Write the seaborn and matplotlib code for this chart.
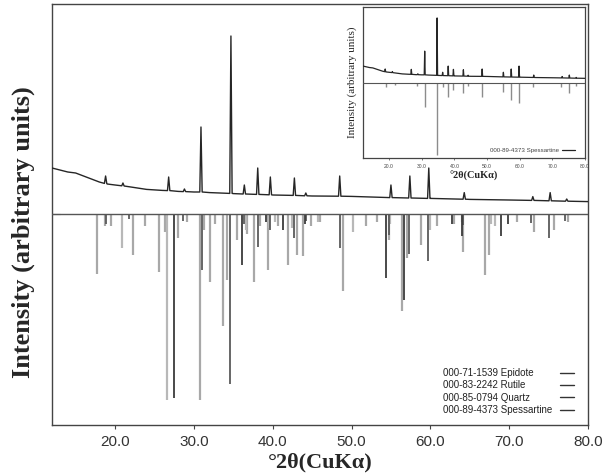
import numpy as np
import matplotlib
matplotlib.use("Agg")
import matplotlib.pyplot as plt
from matplotlib.lines import Line2D
import seaborn as sns

# ---------------- data ----------------
# measured pattern (2theta, intensity in arbitrary units)
meas_x = [12, 13, 14, 15, 16, 17, 18, 18.65, 18.8, 18.95, 19, 20, 20.85, 21.0, 21.15,
          22, 24, 26, 26.65, 26.8, 26.95, 28, 28.65, 28.8, 28.95, 30, 30.75, 30.9, 31.05,
          32, 34.55, 34.7, 34.85, 35, 36.25, 36.4, 36.55, 37.95, 38.1, 38.25, 39.55, 39.7,
          39.85, 40, 42.6, 42.75, 42.9, 44.05, 44.2, 44.35, 45, 48.35, 48.5, 48.65, 50,
          54.85, 55.0, 55.15, 57.25, 57.4, 57.55, 59.65, 59.8, 59.95, 60, 64.15, 64.3, 64.45,
          65, 70, 72.85, 73.0, 73.15, 75.05, 75.2, 75.35, 77.15, 77.3, 77.45, 80]
meas_y = [23, 22, 21, 20.5, 19, 17.5, 16, 15.3, 19, 15.2, 15, 14.5, 14.1, 15.5, 14,
          13.5, 12.3, 11.8, 11.7, 18.5, 11.7, 11.3, 11.2, 12.5, 11.2, 11, 11, 43.5, 11,
          10.7, 10.3, 89, 10.3, 10.2, 10, 14.5, 10, 9.8, 23, 9.8, 9.6, 18.5,
          9.6, 9.5, 9.3, 18, 9.3, 9.1, 10.5, 9.1, 9, 8.9, 19, 8.9, 8.8,
          8.2, 14.5, 8.2, 8, 19, 8, 7.8, 23, 7.8, 7.8, 7.4, 10.7, 7.4,
          7.3, 7, 6.8, 8.7, 6.8, 6.6, 10.7, 6.6, 6.4, 7.5, 6.4, 6.2]

# reference patterns (peak position, relative intensity)
epi_pos = [17.76, 18.7, 19.45, 22.25, 23.8, 25.6, 26.36, 28.0, 29.1, 30.8, 31.3, 32.1,
           32.7, 33.7, 34.2, 35.5, 36.7, 37.6, 38.4, 39.36, 40.7, 41.9, 43.1, 43.9, 44.8,
           46.0, 48.9, 51.8, 53.25, 54.7, 56.43, 57.1, 58.8, 60.9, 63.0, 64.2, 66.9,
           67.45, 71.0, 73.2, 75.7, 77.4]
epi_int = [30, 6, 6, 20.5, 6, 29, 9, 12, 4, 93, 8, 34,
           5, 56, 33, 13, 10, 34, 6, 28, 6, 25.5, 20.5, 21, 6,
           4, 38.5, 6, 4, 13, 48.5, 22, 15.5, 6, 5, 19, 30.5,
           20.5, 4, 9, 8, 4]
rut_pos = [27.45, 36.08, 39.2, 41.25, 44.05, 54.33, 56.64, 62.75, 64.05, 69.0, 69.8]
rut_int = [92, 25.5, 4, 8, 5, 32, 43, 5, 11, 11, 5]
qtz_pos = [20.86, 26.64, 36.55, 39.47, 40.3, 42.45, 45.8, 50.14, 54.87, 59.96, 64.0,
           67.74, 68.14]
qtz_int = [17, 93, 8, 7, 4, 7, 4, 9, 5, 8, 4, 5, 6]
spe_pos = [18.9, 21.8, 28.6, 31.0, 34.6, 36.4, 38.1, 39.6, 42.7, 44.2, 48.5, 54.8,
           57.3, 59.7, 64.1, 72.8, 75.1, 77.1]
spe_int = [5, 2.4, 3.5, 28, 85, 5, 16.5, 8, 12, 3.5, 17, 10.6,
           20, 23.6, 5.3, 4.7, 12, 3.5]

phase_labels = ["000-71-1539 Epidote", "000-83-2242 Rutile",
                "000-85-0794 Quartz", "000-89-4373 Spessartine"]
xticks = [20, 30, 40, 50, 60, 70, 80]
xtick_labels = ["20.0", "30.0", "40.0", "50.0", "60.0", "70.0", "80.0"]

# ---------------- style ----------------
sns.set_style("ticks")
plt.rcParams["font.family"] = ["Liberation Sans", "DejaVu Sans"]
serif = ["Liberation Serif", "DejaVu Serif"]

W, H = 609, 476
fig = plt.figure(figsize=(W / 100, H / 100), dpi=100)
ax = fig.add_axes([52 / W, 1 - 425 / H, (588 - 52) / W, (425 - 4) / H])

c_meas = "#262626"
c_epi = "#a8a8a8"
c_rut = "#3c3c3c"
c_qtz = "#b8b8b8"
c_spe = "#5a5a5a"

sns.lineplot(x=meas_x, y=meas_y, ax=ax, color=c_meas, lw=1.0, sort=False,
             estimator=None, zorder=3)
ax.axhline(0, color="#555555", lw=1.0, zorder=4)
ax.vlines(epi_pos, -np.array(epi_int), 0, colors=c_epi, lw=1.6, zorder=2)
ax.vlines(qtz_pos, -np.array(qtz_int), 0, colors=c_qtz, lw=1.6, zorder=2)
ax.vlines(spe_pos, -np.array(spe_int), 0, colors=c_spe, lw=1.3, zorder=2.5)
ax.vlines(rut_pos, -np.array(rut_int), 0, colors=c_rut, lw=1.3, zorder=2.6)

ax.set_xlim(12, 80)
ax.set_ylim(-105.5, 105)
ax.set_xticks(xticks)
ax.set_xticklabels(xtick_labels)
ax.set_yticks([0])
ax.set_yticklabels([""])
ax.tick_params(axis="x", direction="out", length=3, width=0.8, color="#444444",
               labelsize=11, labelcolor="#333333", pad=4)
ax.tick_params(axis="y", direction="in", length=6, width=0.8, color="#444444")
for s in ax.spines.values():
    s.set_color("#444444")
    s.set_linewidth(1.0)

ax.set_xlabel("°2θ(CuKα)", family=serif, fontweight="bold", fontsize=16, labelpad=3)
ax.set_ylabel("Intensity (arbitrary units)", family=serif, fontweight="bold",
              fontsize=19)
ax.yaxis.set_label_coords(-0.032, 0.458)

# legend: texts (left aligned) and line samples (separate column)
handles = [Line2D([], [], color="#333333", lw=1.0) for _ in phase_labels]
leg_txt = ax.legend(handles, phase_labels, loc="upper left",
                    bbox_to_anchor=((443 - 52) / 536, (425 - 368) / 421),
                    frameon=False, handlelength=0, handletextpad=0, borderpad=0,
                    borderaxespad=0, labelspacing=0.25, fontsize=7)
for t in leg_txt.get_texts():
    t.set_color("#222222")
ax.add_artist(leg_txt)
leg_h = ax.legend(handles, [" "] * 4, loc="upper left",
                  bbox_to_anchor=((560 - 52) / 536, (425 - 368) / 421),
                  frameon=False, handlelength=1.4, handletextpad=0, borderpad=0,
                  borderaxespad=0, labelspacing=0.25, fontsize=7)

# ---------------- inset ----------------
axin = fig.add_axes([363 / W, 1 - 158 / H, (585 - 363) / W, (158 - 7) / H])
axin.set_facecolor("white")
inset_ref_scale = 1.16
sns.lineplot(x=meas_x, y=meas_y, ax=axin, color=c_meas, lw=0.9, sort=False,
             estimator=None, zorder=3)
axin.axhline(0, color="#555555", lw=0.8, zorder=4)
axin.vlines(spe_pos, -np.array(spe_int) * inset_ref_scale, 0, colors="#8c8c8c",
            lw=1.0, zorder=2)
axin.set_xlim(12, 80)
axin.set_ylim(-103, 104)
axin.set_xticks(xticks)
axin.set_xticklabels(xtick_labels)
axin.set_yticks([])
axin.tick_params(axis="x", direction="out", length=1.5, width=0.5, color="#444444",
                 labelsize=3.6, labelcolor="#444444", pad=3)
for s in axin.spines.values():
    s.set_color("#444444")
    s.set_linewidth(0.9)
axin.set_xlabel("°2θ(CuKα)", family=serif, fontweight="bold", fontsize=7.4, labelpad=1.5)
axin.set_ylabel("Intensity (arbitrary units)", family=serif, fontsize=8, labelpad=4)
leg_in = axin.legend([Line2D([], [], color="#222222", lw=0.9)], [phase_labels[3]],
                     loc="lower right", bbox_to_anchor=((575 - 363) / 222, (158 - 153) / 151),
                     frameon=False, markerfirst=False, handlelength=2.2,
                     handletextpad=0.5, borderpad=0, borderaxespad=0, fontsize=4.4)
for t in leg_in.get_texts():
    t.set_color("#444444")

fig.savefig("out.png", dpi=100)
